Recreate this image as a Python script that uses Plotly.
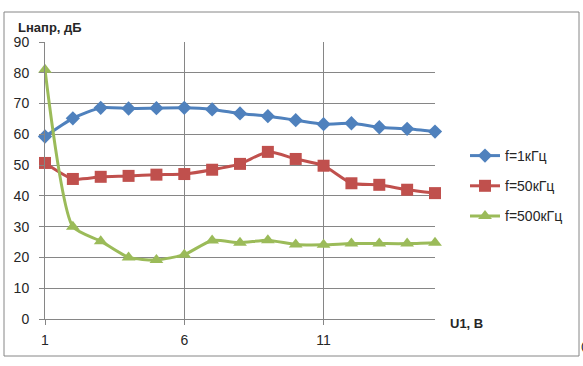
import plotly.graph_objects as go

u1 = list(range(1, 16))
f_1k = [59.3, 65.2, 68.6, 68.4, 68.5, 68.6, 68.1, 66.8, 65.9, 64.6, 63.3, 63.6, 62.3, 61.8, 60.9]
f_50k = [50.7, 45.5, 46.2, 46.5, 46.9, 47.1, 48.5, 50.4, 54.3, 52.0, 49.8, 44.1, 43.6, 42.0, 40.9]
f_500k = [81.0, 30.0, 25.3, 20.0, 19.2, 20.9, 25.5, 24.8, 25.6, 24.2, 24.1, 24.5, 24.5, 24.5, 24.8]
names = ["f=1кГц", "f=50кГц", "f=500кГц"]
colors = ["#4F81BD", "#C0504D", "#9BBB59"]
symbols = ["diamond", "square", "triangle-up"]
sizes = [11, 12, 12]

FONT = "Liberation Sans, Arial, sans-serif"
W, H = 583, 366
L, R, T, B = 45, 435, 42, 319

fig = go.Figure()
for i, ys in enumerate([f_1k, f_50k, f_500k]):
    fig.add_trace(go.Scatter(
        x=u1, y=ys, name=names[i], mode="lines+markers",
        legendgroup=names[i],
        line=dict(color=colors[i], width=3, shape="spline", smoothing=0.6),
        marker=dict(symbol=symbols[i], size=sizes[i], color=colors[i]),
        cliponaxis=False,
    ))

def px(x):
    return (x - L) / (R - L)

def py(y):
    return (B - y) / (B - T)

fig.update_layout(
    width=W, height=H,
    margin=dict(l=L, r=W - R, t=T, b=H - B, autoexpand=False),
    paper_bgcolor="white", plot_bgcolor="white",
    font=dict(family=FONT, size=14, color="#262626"),
    showlegend=True,
    legend=dict(x=px(465), y=py(140), xanchor="left", yanchor="top",
                font=dict(size=14, color="#262626"), tracegroupgap=9,
                bgcolor="rgba(0,0,0,0)", itemwidth=30),
    xaxis=dict(range=[1, 15], tickvals=[1, 6, 11], ticks="outside", ticklen=5,
               tickcolor="#868686", showgrid=True, gridcolor="#868686", gridwidth=1,
               showline=True, linecolor="#868686", linewidth=1, zeroline=False,
               tickfont=dict(size=14, color="#262626"), ticklabelstandoff=3,
               fixedrange=True),
    yaxis=dict(range=[0, 90], dtick=10, ticks="outside", ticklen=5,
               tickcolor="#868686", showgrid=True, gridcolor="#868686", gridwidth=1,
               showline=True, linecolor="#868686", linewidth=1, zeroline=False,
               tickfont=dict(size=14, color="#262626"), ticklabelstandoff=7,
               fixedrange=True),
    shapes=[dict(type="rect", xref="paper", yref="paper",
                 x0=px(4), x1=px(579), y0=py(356), y1=py(12),
                 line=dict(color="#868686", width=1), layer="below")],
    annotations=[
        dict(text="<b>Lнапр, дБ</b>", xref="paper", yref="paper",
             x=px(16), y=py(28), xanchor="left", yanchor="middle",
             showarrow=False, font=dict(size=13, color="#262626")),
        dict(text="<b>U1, В</b>", xref="paper", yref="paper",
             x=px(448), y=py(323), xanchor="left", yanchor="middle",
             showarrow=False, font=dict(size=13, color="#262626")),
        dict(text="(", xref="paper", yref="paper",
             x=px(579), y=py(346), xanchor="left", yanchor="middle",
             showarrow=False, font=dict(size=11, color="#000000")),
    ],
)

fig.write_html("out.html", config={"displayModeBar": False},
               post_script="document.body.style.margin='0';")
